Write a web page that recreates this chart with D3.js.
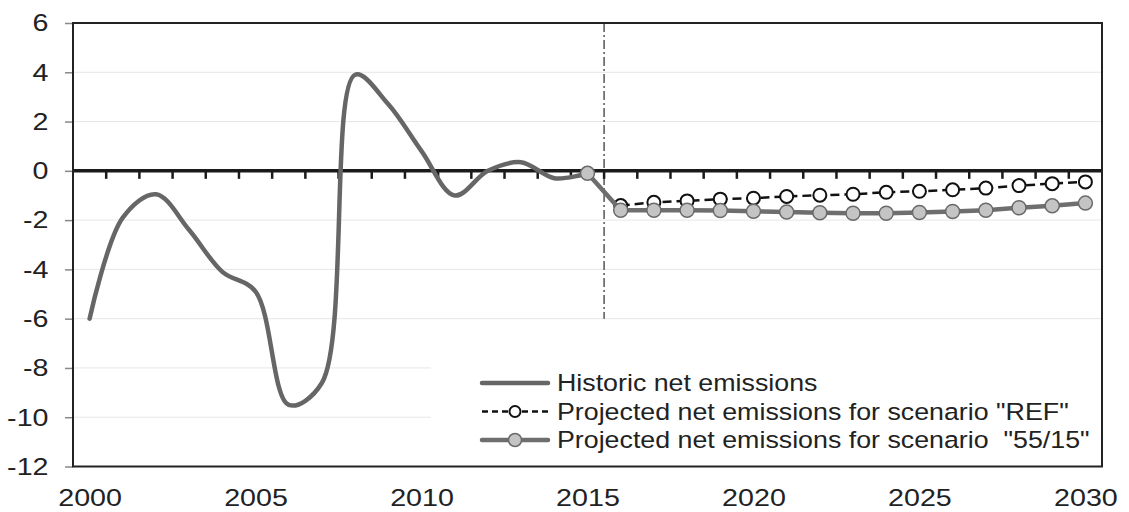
<!DOCTYPE html>
<html>
<head>
<meta charset="utf-8">
<script src="https://cdn.jsdelivr.net/npm/d3@7"></script>
<style>
  body { margin: 0; background: #fff; }
  svg text { font-family: "Liberation Sans", Arial, sans-serif; fill: #222; }
</style>
</head>
<body>
<div id="chart"></div>
<script>
// categories
const years = [2000, 2001, 2002, 2003, 2004, 2005, 2006, 2007, 2008, 2009, 2010,
               2011, 2012, 2013, 2014, 2015, 2016, 2017, 2018, 2019, 2020,
               2021, 2022, 2023, 2024, 2025, 2026, 2027, 2028, 2029, 2030];
const xTickLabels = [2000, 2005, 2010, 2015, 2020, 2025, 2030];
const yTickValues = [-12, -10, -8, -6, -4, -2, 0, 2, 4, 6];

// historic net emissions
const histYears = [2000, 2001, 2002, 2003, 2004, 2005, 2006, 2007,
                   2008, 2009, 2010, 2011, 2012, 2013, 2014, 2015];
const historic = [-6.0, -1.9, -0.95, -2.4, -4.1, -4.9, -9.5, -8.6,
                  3.9, 2.7, 0.8, -1.0, 0.0, 0.35, -0.3, -0.1];

// projections
const refYears = [2016, 2017, 2018, 2019, 2020, 2021, 2022, 2023,
                  2024, 2025, 2026, 2027, 2028, 2029, 2030];
const refValues = [-1.41, -1.28, -1.22, -1.15, -1.11, -1.04, -0.99, -0.95,
                   -0.87, -0.83, -0.77, -0.70, -0.60, -0.52, -0.45];
const s5515Years = [2015, 2016, 2017, 2018, 2019, 2020, 2021, 2022, 2023,
                    2024, 2025, 2026, 2027, 2028, 2029, 2030];
const s5515Values = [-0.1, -1.6, -1.6, -1.6, -1.61, -1.64, -1.67, -1.7, -1.72,
                     -1.72, -1.69, -1.65, -1.6, -1.5, -1.42, -1.31];

const legendLabels = ["Historic net emissions",
                      "Projected net emissions for scenario \"REF\"",
                      "Projected net emissions for scenario  \"55/15\""];

const width = 1129, height = 512,
      margin = ({ top: 23, right: 27, bottom: 45.5, left: 73 });
const sx = 1.17; // text in the original is drawn a bit wide

let svg = d3.select("#chart")
    .append("svg")
    .attr("width", width)
    .attr("height", height);

let x = d3.scalePoint()
    .domain(years)
    .range([margin.left, width - margin.right])
    .padding(0.5);
const step = x.step();

let y = d3.scaleLinear()
    .domain([-12, 6])
    .range([height - margin.bottom, margin.top]);

// gridlines
svg.append("g")
    .selectAll("line")
    .data(yTickValues.filter(d => d > -12 && d < 6 && d !== 0))
    .join("line")
    .attr("x1", margin.left)
    .attr("x2", width - margin.right)
    .attr("y1", d => y(d))
    .attr("y2", d => y(d))
    .attr("stroke", "#e6e6e6")
    .attr("stroke-width", 1);

// legend background covers gridlines
svg.append("rect")
    .attr("x", 431)
    .attr("y", 345)
    .attr("width", width - margin.right - 431 - 1)
    .attr("height", y(-12) - 345 - 1)
    .attr("fill", "#fff");

// y axis
let yAxis = svg.append("g")
    .attr("transform", `translate(${margin.left},0)`)
    .call(d3.axisLeft(y).tickValues(yTickValues).tickSize(8).tickFormat(d => d));
yAxis.select(".domain").remove();
yAxis.selectAll("line").attr("stroke", "#888").attr("stroke-width", 1.5);
yAxis.selectAll("text")
    .attr("font-size", 24.5)
    .attr("transform", `scale(${sx},1)`)
    .attr("x", -24.5 / sx);

// x axis labels (baseline kept inside the picture)
let xAxis = svg.append("g")
    .attr("transform", `translate(0,${y(-12)})`)
    .call(d3.axisBottom(x).tickValues(xTickLabels).tickSize(0).tickPadding(22));
xAxis.select(".domain").remove();
xAxis.selectAll("text")
    .attr("font-size", 24.5)
    .attr("transform", `scale(${sx},1)`);

// vertical separator at 2015/2016
svg.append("line")
    .attr("x1", x(2015) + step / 2)
    .attr("x2", x(2015) + step / 2)
    .attr("y1", y(6))
    .attr("y2", y(-6))
    .attr("stroke", "#555")
    .attr("stroke-width", 1.5)
    .attr("stroke-dasharray", "9,3,2,3");

// zero line with category ticks
svg.append("line")
    .attr("x1", margin.left)
    .attr("x2", width - margin.right)
    .attr("y1", y(0))
    .attr("y2", y(0))
    .attr("stroke", "#1a1a1a")
    .attr("stroke-width", 3.5);

svg.append("g")
    .selectAll("line")
    .data(years.slice(0, -1))
    .join("line")
    .attr("x1", d => x(d) + step / 2)
    .attr("x2", d => x(d) + step / 2)
    .attr("y1", y(0))
    .attr("y2", y(0) + 8)
    .attr("stroke", "#1a1a1a")
    .attr("stroke-width", 2.5);

// frame
svg.append("rect")
    .attr("x", margin.left)
    .attr("y", y(6))
    .attr("width", width - margin.right - margin.left)
    .attr("height", y(-12) - y(6))
    .attr("fill", "none")
    .attr("stroke", "#222")
    .attr("stroke-width", 2);

// historic smoothed line
let histLine = d3.line()
    .x(d => x(d[0]))
    .y(d => y(d[1]))
    .curve(d3.curveCatmullRom.alpha(0.5));

svg.append("path")
    .datum(d3.zip(histYears, historic))
    .attr("d", histLine)
    .attr("fill", "none")
    .attr("stroke", "#666")
    .attr("stroke-width", 4.5)
    .attr("stroke-linecap", "round")
    .attr("stroke-linejoin", "round");

let straight = d3.line()
    .x(d => x(d[0]))
    .y(d => y(d[1]));

// REF scenario
const refData = d3.zip(refYears, refValues);
svg.append("path")
    .datum(refData)
    .attr("d", straight)
    .attr("fill", "none")
    .attr("stroke", "#111")
    .attr("stroke-width", 2.5)
    .attr("stroke-dasharray", "9,5");

svg.append("g")
    .selectAll("circle")
    .data(refData)
    .join("circle")
    .attr("cx", d => x(d[0]))
    .attr("cy", d => y(d[1]))
    .attr("r", 6.5)
    .attr("fill", "#fff")
    .attr("stroke", "#111")
    .attr("stroke-width", 2);

// 55/15 scenario
const sData = d3.zip(s5515Years, s5515Values);
svg.append("path")
    .datum(sData)
    .attr("d", straight)
    .attr("fill", "none")
    .attr("stroke", "#6e6e6e")
    .attr("stroke-width", 4.5);

svg.append("g")
    .selectAll("circle")
    .data(sData)
    .join("circle")
    .attr("cx", d => x(d[0]))
    .attr("cy", d => y(d[1]))
    .attr("r", 7)
    .attr("fill", "#c4c4c4")
    .attr("stroke", "#6a6a6a")
    .attr("stroke-width", 1.5);

// legend
const legX1 = 482, legX2 = 548, legTextX = 557;
const legY = [383, 411.5, 440];

let leg = svg.append("g");

leg.append("line")
    .attr("x1", legX1).attr("x2", legX2)
    .attr("y1", legY[0]).attr("y2", legY[0])
    .attr("stroke", "#666").attr("stroke-width", 4.5).attr("stroke-linecap", "round");

leg.append("line")
    .attr("x1", legX1).attr("x2", legX2)
    .attr("y1", legY[1]).attr("y2", legY[1])
    .attr("stroke", "#111").attr("stroke-width", 2.5).attr("stroke-dasharray", "6,4");
leg.append("circle")
    .attr("cx", (legX1 + legX2) / 2).attr("cy", legY[1]).attr("r", 5.5)
    .attr("fill", "#fff").attr("stroke", "#111").attr("stroke-width", 2);

leg.append("line")
    .attr("x1", legX1).attr("x2", legX2)
    .attr("y1", legY[2]).attr("y2", legY[2])
    .attr("stroke", "#6e6e6e").attr("stroke-width", 4.5).attr("stroke-linecap", "round");
leg.append("circle")
    .attr("cx", (legX1 + legX2) / 2).attr("cy", legY[2]).attr("r", 6.5)
    .attr("fill", "#c4c4c4").attr("stroke", "#6a6a6a").attr("stroke-width", 1.5);

leg.selectAll("text")
    .data(legendLabels)
    .join("text")
    .attr("transform", (d, i) => `translate(${legTextX},${legY[i]}) scale(1.14,1)`)
    .attr("dy", "0.36em")
    .attr("font-size", 23.5)
    .style("white-space", "pre")
    .attr("xml:space", "preserve")
    .text(d => d);
</script>
</body>
</html>
